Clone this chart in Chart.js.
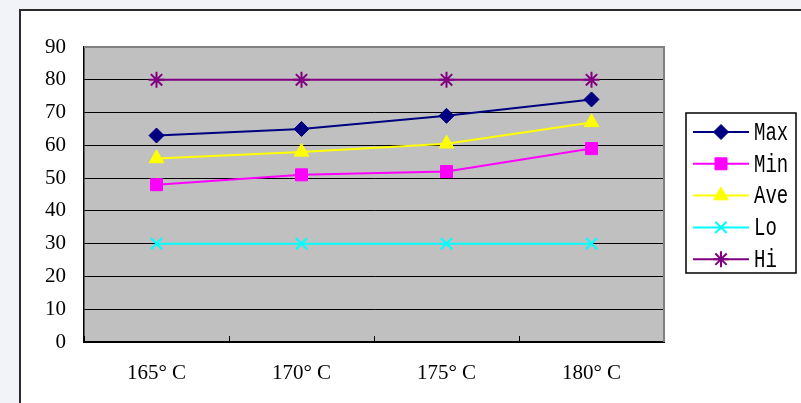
<!DOCTYPE html>
<html>
<head>
<meta charset="utf-8">
<script src="https://cdn.jsdelivr.net/npm/chart.js@4.4.1/dist/chart.umd.min.js"></script>
<style>
  html, body { margin: 0; padding: 0; width: 801px; height: 403px; overflow: hidden; background: #f2f3f9; }
  #frame { position: absolute; left: 19px; top: 9px; width: 800px; height: 420px; border: 2px solid #2a2a2a; background: #ffffff; }
  #wrap { position: absolute; left: 0; top: 0; width: 801px; height: 403px; }
</style>
</head>
<body>
<div id="frame"></div>
<div id="wrap"><canvas id="c" width="801" height="403"></canvas></div>
<script>
const categories = ["165° C", "170° C", "175° C", "180° C"];
const seriesNames = ["Max", "Min", "Ave", "Lo", "Hi"];
const maxValues = [63, 65, 69, 74];
const minValues = [48, 51, 52, 59];
const aveValues = [56, 58, 60.5, 67];
const loValues = [30, 30, 30, 30];
const hiValues = [80, 80, 80, 80];
const yTicks = [0, 10, 20, 30, 40, 50, 60, 70, 80, 90];

const seriesValues = [maxValues, minValues, aveValues, loValues, hiValues];
const colors = ["#000080", "#ff00ff", "#ffff00", "#00ffff", "#800080"];
const styles = ["rectRot", "rect", "triangle", "crossRot", "star"];
const radii = [7.5, 8.5, 8.5, 8, 8];
const pBorder = [1, 1, 1, 2, 2];

const datasets = seriesNames.map((n, i) => ({
  label: n,
  data: seriesValues[i],
  borderColor: colors[i],
  backgroundColor: colors[i],
  borderWidth: 2,
  pointStyle: styles[i],
  pointRadius: radii[i],
  pointHoverRadius: radii[i],
  pointBorderWidth: pBorder[i],
  pointBackgroundColor: colors[i],
  pointBorderColor: colors[i],
  tension: 0,
  fill: false
}));

const plotBg = {
  id: 'plotBg',
  beforeDraw(chart) {
    const {ctx, chartArea: a} = chart;
    ctx.save();
    ctx.fillStyle = '#c0c0c0';
    ctx.fillRect(a.left, a.top, a.right - a.left, a.bottom - a.top);
    ctx.restore();
  },
  afterDatasetsDraw(chart) {
    const {ctx, chartArea: a} = chart;
    ctx.save();
    ctx.strokeStyle = '#808080';
    ctx.lineWidth = 2;
    ctx.beginPath();
    ctx.moveTo(a.left, a.top);
    ctx.lineTo(a.right, a.top);
    ctx.lineTo(a.right, a.bottom);
    ctx.stroke();
    ctx.restore();
  }
};

const boxLegend = {
  id: 'boxLegend',
  afterDraw(chart) {
    const ctx = chart.ctx;
    const bx = 686, by = 113, bw = 110, bh = 160;
    ctx.save();
    ctx.fillStyle = '#ffffff';
    ctx.fillRect(bx, by, bw, bh);
    ctx.strokeStyle = '#000000';
    ctx.lineWidth = 1.5;
    ctx.strokeRect(bx, by, bw, bh);
    chart.data.datasets.forEach((ds, i) => {
      const y = 132 + i * 31.8;
      ctx.strokeStyle = ds.borderColor;
      ctx.lineWidth = 2;
      ctx.beginPath();
      ctx.moveTo(693, y);
      ctx.lineTo(749, y);
      ctx.stroke();
      ctx.fillStyle = ds.pointBackgroundColor;
      ctx.strokeStyle = ds.pointBorderColor;
      ctx.lineWidth = ds.pointBorderWidth;
      Chart.helpers.drawPoint(ctx, {pointStyle: ds.pointStyle, radius: ds.pointRadius, borderWidth: ds.pointBorderWidth, rotation: 0}, 721, y);
      ctx.save();
      ctx.translate(754, y + 1);
      ctx.scale(1, 1.35);
      ctx.fillStyle = '#000000';
      ctx.font = '19px "Liberation Mono"';
      ctx.textBaseline = 'middle';
      ctx.textAlign = 'left';
      ctx.fillText(ds.label, 0, 0);
      ctx.restore();
    });
    ctx.restore();
  }
};

new Chart(document.getElementById('c'), {
  type: 'line',
  data: { labels: categories, datasets },
  plugins: [plotBg, boxLegend],
  options: {
    responsive: false,
    animation: false,
    devicePixelRatio: 1,
    layout: { padding: { left: 0, top: 47, right: 137, bottom: 0 } },
    plugins: { legend: { display: false }, tooltip: { enabled: false } },
    scales: {
      x: {
        type: 'category',
        offset: true,
        afterFit(s) { s.height = 61; },
        grid: { offset: true, drawOnChartArea: false, drawTicks: true, tickLength: -6, color: '#000000', lineWidth: 1 },
        border: { color: '#000000', width: 2 },
        ticks: { color: '#000000', font: { family: 'Liberation Serif', size: 21 }, padding: 25, maxRotation: 0, autoSkip: false }
      },
      y: {
        min: 0, max: 90,
        afterFit(s) { s.width = 84; },
        afterBuildTicks(s) { s.ticks = yTicks.map(v => ({ value: v })); },
        grid: {
          drawTicks: false,
          color: ctx => (ctx.tick && ctx.tick.value === 90) ? '#808080' : '#000000',
          lineWidth: ctx => (ctx.tick && ctx.tick.value === 90) ? 2 : 1
        },
        border: { color: '#000000', width: 1.5 },
        ticks: { color: '#000000', font: { family: 'Liberation Serif', size: 21 }, padding: 18, stepSize: 10 }
      }
    }
  }
});
</script>
</body>
</html>
